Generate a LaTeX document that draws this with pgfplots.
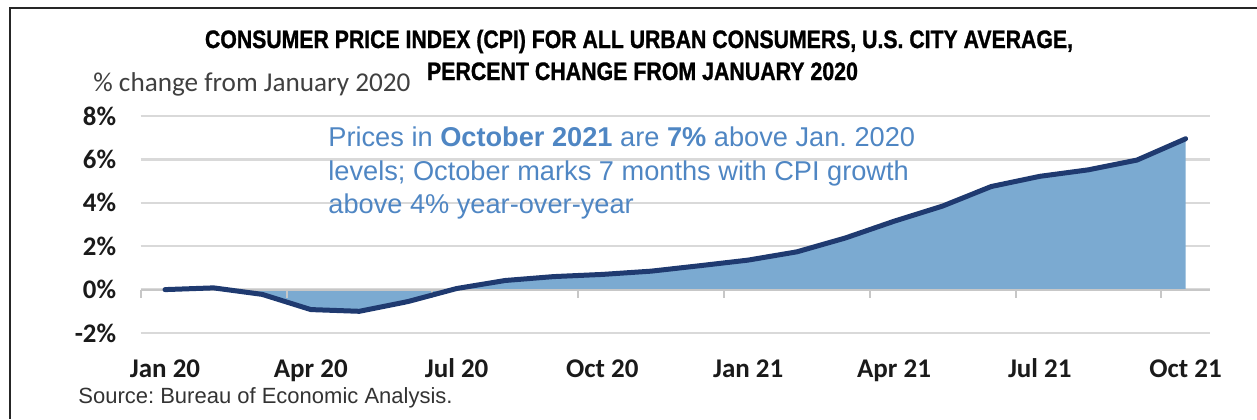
\documentclass[border=0pt]{standalone}
\usepackage{fontspec}
\setmainfont{Liberation Sans}
\newfontfamily\calfont{Carlito}
\newfontfamily\titlefont[FakeBold=1.2]{Liberation Sans Bold}
\usepackage{graphicx}
\usepackage{pgfplots}
\pgfplotsset{compat=1.18}
\definecolor{fillblue}{HTML}{7BAAD1}
\definecolor{navy}{HTML}{1F3A70}
\definecolor{annblue}{HTML}{4F86C3}
\definecolor{gridgray}{HTML}{D9D9D9}
\definecolor{labgray}{HTML}{1A1A1A}
\pgfplotstableread{
x y
0 0.0
1 0.08
2 -0.22
3 -0.92
4 -1.0
5 -0.55
6 0.05
7 0.42
8 0.6
9 0.7
10 0.85
11 1.1
12 1.36
13 1.74
14 2.38
15 3.15
16 3.85
17 4.75
18 5.22
19 5.52
20 5.97
21 6.95
}\cpidata
\begin{document}
\frenchspacing
\begin{tikzpicture}
\path[use as bounding box] (0pt,0pt) rectangle (628.5pt,-209.5pt);
% frame
\draw[line width=1pt, black!85] (5pt,-209.5pt) -- (5pt,-4pt) -- (628.5pt,-4pt);
% title
\node[anchor=base, inner sep=0pt] at (319.5pt,-24pt)
  {\resizebox{434pt}{\height}{\titlefont\fontsize{12.6}{14}\selectfont CONSUMER PRICE INDEX (CPI) FOR ALL URBAN CONSUMERS, U.S. CITY AVERAGE,}};
\node[anchor=base, inner sep=0pt] at (321.25pt,-40pt)
  {\resizebox{215.5pt}{\height}{\titlefont\fontsize{12.6}{14}\selectfont PERCENT CHANGE FROM JANUARY 2020}};
\node[anchor=base west, inner sep=0pt, text=black!75] at (46.5pt,-45.5pt)
  {\calfont\fontsize{13.6}{16}\selectfont \% change from January 2020};
\begin{axis}[
  at={(70.35pt,-166.5pt)}, anchor=south west,
  scale only axis, width=534.6pt, height=108.5pt,
  xmin=-0.5, xmax=21.5, ymin=-2, ymax=8,
  axis line style={draw=none},
  major tick length=0pt,
  ytick={-2,0,2,4,6,8},
  yticklabels={-2\%,0\%,2\%,4\%,6\%,8\%},
  ymajorgrids,
  grid style={gridgray, line width=1.2pt},
  yticklabel style={anchor=east, inner sep=0pt, xshift=-12.1pt,
    font=\calfont\bfseries\fontsize{13.4}{15}\selectfont, text=labgray},
  xtick={0,3,6,9,12,15,18,21},
  xticklabels={Jan 20,Apr 20,Jul 20,Oct 20,Jan 21,Apr 21,Jul 21,Oct 21},
  xticklabel style={anchor=base, inner sep=0pt, yshift=-22pt,
    font=\calfont\bfseries\fontsize{13.5}{15}\selectfont, text=labgray},
  clip=false,
]
\addplot[fill=fillblue, draw=none] table {\cpidata} \closedcycle;
\draw[gridgray!80!gray, line width=1pt] (axis cs:-0.5,0) -- (axis cs:21.5,0);
\pgfplotsinvokeforeach{-0.5,2.5,5.5,8.5,11.5,14.5,17.5,20.5}{
  \draw[gridgray!80!gray, line width=1pt] (axis cs:#1,0) -- (axis cs:#1,-0.37);
}
\addplot[navy, line width=2.5pt, line join=round, line cap=round] table {\cpidata};
\end{axis}
% annotation
\begin{scope}[every node/.style={anchor=base west, inner sep=0pt, text=annblue,
   font=\fontsize{13.6}{16}\selectfont}]
\node at (164pt,-73pt) {Prices in \textbf{October 2021} are \textbf{7\%} above Jan. 2020};
\node at (164pt,-90pt) {levels; October marks 7 months with CPI growth};
\node at (164pt,-106.5pt) {above 4\% year-over-year};
\end{scope}
% source
\node[anchor=base west, inner sep=0pt, text=black!80] at (39pt,-201.5pt)
  {\fontsize{11}{13}\selectfont Source: Bureau of Economic Analysis.};
\end{tikzpicture}
\end{document}
